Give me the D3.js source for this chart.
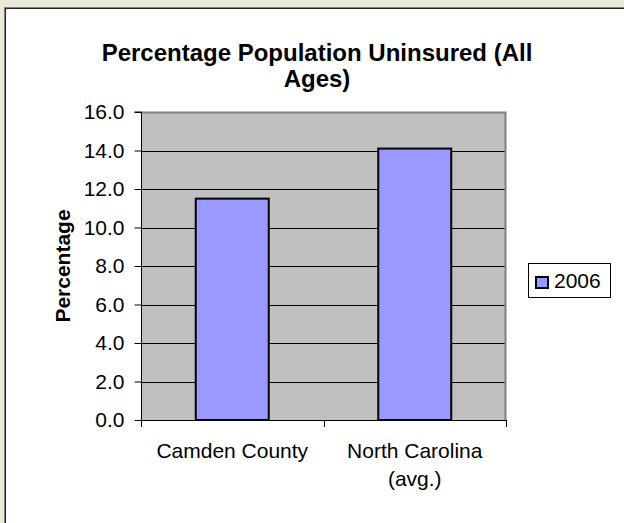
<!DOCTYPE html>
<html>
<head>
<meta charset="utf-8">
<script src="https://cdn.jsdelivr.net/npm/d3@7"></script>
<style>
  html, body { margin: 0; padding: 0; background: #ece9d8; }
  svg { display: block; }
  text { font-family: "Liberation Sans", Arial, sans-serif; fill: #000; }
</style>
</head>
<body>
<script>
const categories = [["Camden County"], ["North Carolina", "(avg.)"]];
const categoryKeys = ["Camden County", "North Carolina (avg.)"];
const values2006 = [11.5, 14.1];
const seriesName = "2006";
const yTicks = [0, 2, 4, 6, 8, 10, 12, 14, 16];
const titleLines = ["Percentage Population Uninsured (All", "Ages)"];
const yLabel = "Percentage";

const W = 624, H = 523;
const svg = d3.select("body").append("svg").attr("width", W).attr("height", H);

// chart frame
svg.append("rect").attr("x", 0).attr("y", 0).attr("width", W).attr("height", H).attr("fill", "#ece9d8");
svg.append("rect").attr("x", 4).attr("y", 7).attr("width", W).attr("height", H).attr("fill", "#fff");
svg.append("line").attr("x1", 4.5).attr("x2", 4.5).attr("y1", 7).attr("y2", H).attr("stroke", "#808080");
svg.append("line").attr("x1", 4).attr("x2", W).attr("y1", 7.5).attr("y2", 7.5).attr("stroke", "#808080");
svg.append("line").attr("x1", 5.5).attr("x2", 5.5).attr("y1", 8).attr("y2", H).attr("stroke", "#222");
svg.append("line").attr("x1", 5).attr("x2", W).attr("y1", 8.5).attr("y2", 8.5).attr("stroke", "#222");

const plot = { left: 141, right: 506, top: 112, bottom: 420 };

const x = d3.scaleBand().domain(categoryKeys).range([plot.left, plot.right])
  .paddingInner(0.6).paddingOuter(0.3);
const xEdge = d3.scaleBand().domain(categoryKeys).range([plot.left, plot.right]).padding(0);
const y = d3.scaleLinear().domain([0, 16]).range([plot.bottom, plot.top]);

// plot background
svg.append("rect").attr("x", plot.left).attr("y", plot.top)
  .attr("width", plot.right - plot.left).attr("height", plot.bottom - plot.top)
  .attr("fill", "#c0c0c0");

// gridlines
svg.append("g").selectAll("line").data(yTicks.filter(d => d > 0 && d < 16)).join("line")
  .attr("x1", plot.left).attr("x2", plot.right)
  .attr("y1", d => Math.round(y(d)) + 0.5).attr("y2", d => Math.round(y(d)) + 0.5)
  .attr("stroke", "#000").attr("stroke-width", 1);

// plot border top/right
svg.append("path")
  .attr("d", `M${plot.left},${plot.top + 0.5}H${plot.right - 0.5}V${plot.bottom}`)
  .attr("fill", "none").attr("stroke", "#808080").attr("stroke-width", 2);

// bars
svg.append("g").selectAll("rect").data(values2006).join("rect")
  .attr("x", (d, i) => x(categoryKeys[i]))
  .attr("y", d => y(d))
  .attr("width", x.bandwidth())
  .attr("height", d => y(0) - y(d))
  .attr("fill", "#9999ff").attr("stroke", "#000").attr("stroke-width", 2);

// y axis
const yAxis = d3.axisLeft(y).tickValues(yTicks).tickFormat(d3.format(".1f")).tickSize(7).tickPadding(10);
const gy = svg.append("g").attr("transform", `translate(${plot.left + 0.5},0)`).call(yAxis);
gy.select(".domain").attr("stroke", "#000").attr("d", `M-7,${plot.top}H0V${plot.bottom}`);
gy.selectAll(".tick line").attr("stroke", "#000");
gy.selectAll(".tick text").attr("font-size", 21).attr("font-family", "Liberation Sans, Arial, sans-serif").attr("fill", "#000");

// x axis line and ticks
svg.append("line").attr("x1", plot.left).attr("x2", plot.right)
  .attr("y1", plot.bottom + 0.5).attr("y2", plot.bottom + 0.5).attr("stroke", "#000");
const edges = categoryKeys.map(k => xEdge(k)).concat([xEdge(categoryKeys[categoryKeys.length - 1]) + xEdge.bandwidth()]);
svg.append("g").selectAll("line").data(edges).join("line")
  .attr("x1", d => Math.round(d) + 0.5).attr("x2", d => Math.round(d) + 0.5)
  .attr("y1", plot.bottom).attr("y2", plot.bottom + 7).attr("stroke", "#000");

// x labels
const xl = svg.append("g").selectAll("text").data(categories).join("text")
  .attr("x", (d, i) => x(categoryKeys[i]) + x.bandwidth() / 2)
  .attr("y", 458).attr("text-anchor", "middle").attr("font-size", 21);
xl.selectAll("tspan").data(d => d).join("tspan")
  .attr("x", function () { return d3.select(this.parentNode).attr("x"); })
  .attr("dy", (d, i) => i === 0 ? 0 : 28).text(d => d);

// y label
svg.append("text").attr("transform", `translate(70,${(plot.top + plot.bottom) / 2}) rotate(-90)`)
  .attr("text-anchor", "middle").attr("font-size", 21).attr("font-weight", "bold").text(yLabel);

// title
svg.append("g").selectAll("text").data(titleLines).join("text")
  .attr("x", 317).attr("y", (d, i) => 61 + i * 26)
  .attr("text-anchor", "middle").attr("font-size", 24).attr("font-weight", "bold").text(d => d);

// legend
const lg = svg.append("g");
lg.append("rect").attr("x", 528.5).attr("y", 263.5).attr("width", 82).attr("height", 34)
  .attr("fill", "#fff").attr("stroke", "#000").attr("stroke-width", 1);
lg.append("rect").attr("x", 536).attr("y", 277).attr("width", 12).attr("height", 11)
  .attr("fill", "#9999ff").attr("stroke", "#000").attr("stroke-width", 2);
lg.append("text").attr("x", 554).attr("y", 288).attr("font-size", 21).text(seriesName);
</script>
</body>
</html>
